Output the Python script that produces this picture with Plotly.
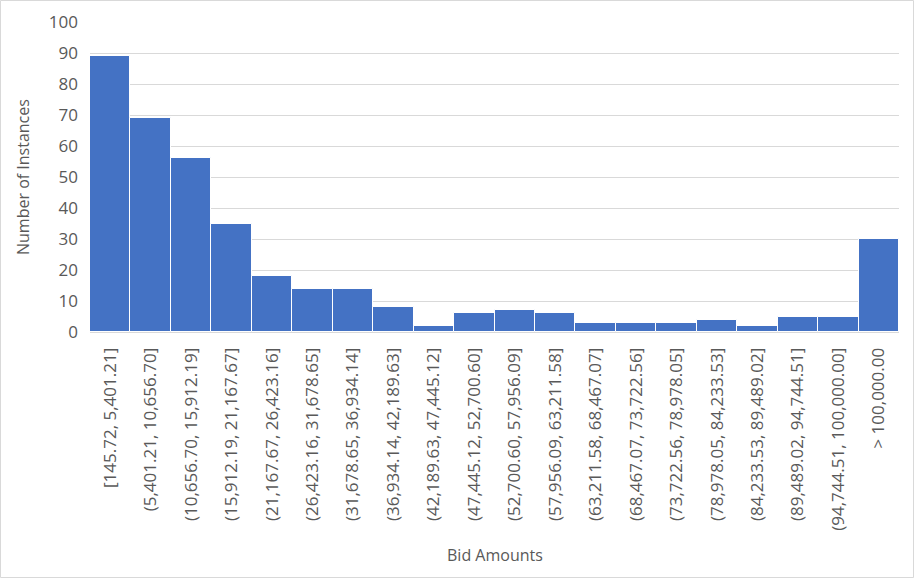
import plotly.graph_objects as go

categories = [
    "[145.72, 5,401.21]", "(5,401.21, 10,656.70]", "(10,656.70, 15,912.19]",
    "(15,912.19, 21,167.67]", "(21,167.67, 26,423.16]", "(26,423.16, 31,678.65]",
    "(31,678.65, 36,934.14]", "(36,934.14, 42,189.63]", "(42,189.63, 47,445.12]",
    "(47,445.12, 52,700.60]", "(52,700.60, 57,956.09]", "(57,956.09, 63,211.58]",
    "(63,211.58, 68,467.07]", "(68,467.07, 73,722.56]", "(73,722.56, 78,978.05]",
    "(78,978.05, 84,233.53]", "(84,233.53, 89,489.02]", "(89,489.02, 94,744.51]",
    "(94,744.51, 100,000.00]", "> 100,000.00",
]
counts = [89, 69, 56, 35, 18, 14, 14, 8, 2, 6, 7, 6, 3, 3, 3, 4, 2, 5, 5, 30]
y_ticks = list(range(0, 101, 10))

W, H = 915, 579
ML, MR, MT, MB = 90, 16, 22, 247
PW, PH = W - ML - MR, H - MT - MB

FONT = "Open Sans"
GREY = "#595959"

fig = go.Figure(go.Bar(
    x=categories, y=counts,
    marker=dict(color="#4472C4", line=dict(color="white", width=1)),
))

fig.update_layout(
    width=W, height=H,
    margin=dict(l=ML, r=MR, t=MT, b=MB, autoexpand=False),
    paper_bgcolor="white", plot_bgcolor="white",
    bargap=0,
    showlegend=False,
    font=dict(family=FONT, size=16, color=GREY),
    xaxis=dict(
        range=[-0.5, len(categories) - 0.5],
        tickangle=-90, showgrid=False, showline=True, linecolor="#d9d9d9",
        linewidth=1, ticks="", ticklabelstandoff=8,
        tickfont=dict(family=FONT, size=17, color=GREY),
        automargin=False,
    ),
    yaxis=dict(
        range=[0, 100], tickvals=y_ticks, showgrid=True, gridcolor="#d9d9d9",
        gridwidth=1, zeroline=False, showline=False, ticks="",
        ticklabelstandoff=11,
        tickfont=dict(family=FONT, size=17, color=GREY),
        automargin=False,
    ),
    annotations=[
        dict(text="Bid Amounts", xref="paper", yref="paper",
             x=0.5, y=-(555 - (MT + PH)) / PH, xanchor="center", yanchor="middle",
             showarrow=False, font=dict(family=FONT, size=16, color=GREY)),
        dict(text="Number of Instances", xref="paper", yref="paper",
             x=-(ML - 23) / PW, y=1 - (177 - MT) / PH, xanchor="center", yanchor="middle",
             textangle=-90, showarrow=False, font=dict(family=FONT, size=16, color=GREY)),
    ],
    shapes=[
        dict(type="rect", xref="paper", yref="paper",
             x0=-(ML - 0.5) / PW, x1=1 + (MR - 1.5) / PW,
             y0=-(MB - 1.5) / PH, y1=1 + (MT - 0.5) / PH,
             line=dict(color="#d9d9d9", width=1), fillcolor="rgba(0,0,0,0)"),
    ],
)

fig.write_html("out.html")
